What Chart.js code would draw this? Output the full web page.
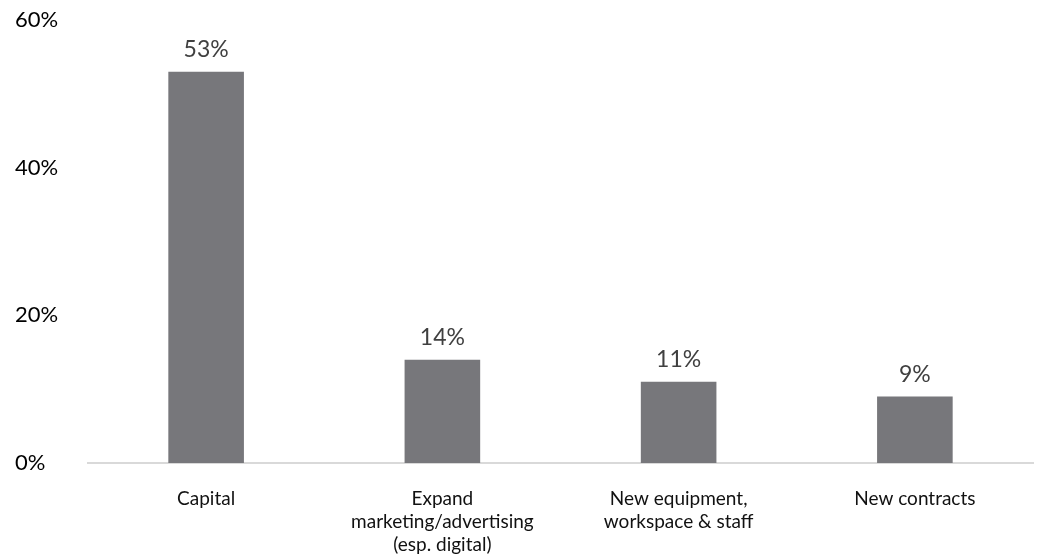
<!DOCTYPE html>
<html>
<head>
<meta charset="utf-8">
<title>Top needs</title>
<script src="https://cdn.jsdelivr.net/npm/chart.js@4.4.0/dist/chart.umd.min.js"></script>
<style>
    body { margin: 0; background: #fff; }
    #wrap { width: 1046px; height: 554px; position: relative; }
</style>
</head>
<body>
<div id="wrap"><canvas id="myChart"></canvas></div>
<script>
var categories = [
    ['Capital'],
    ['Expand', 'marketing/advertising', '(esp. digital)'],
    ['New equipment,', 'workspace & staff'],
    ['New contracts']
];
var shares = [53, 14, 11, 9];
var yTicks = [0, 20, 40, 60];

var barColor = '#77777b';
var fontName = 'Lato, "Open Sans", sans-serif';

// percentage written above each bar
var valueLabels = {
    id: 'valueLabels',
    afterDatasetsDraw: function (chart) {
        var ctx = chart.ctx;
        var meta = chart.getDatasetMeta(0);
        ctx.save();
        ctx.font = '23px ' + fontName;
        ctx.fillStyle = '#404040';
        ctx.textAlign = 'center';
        ctx.textBaseline = 'alphabetic';
        meta.data.forEach(function (bar, i) {
            ctx.fillText(shares[i] + '%', bar.x, bar.y - 15);
        });
        ctx.restore();
    }
};

var ctx = document.getElementById('myChart').getContext('2d');
var chart = new Chart(ctx, {
    type: 'bar',
    data: {
        labels: categories,
        datasets: [{
            data: shares,
            backgroundColor: barColor,
            borderWidth: 0,
            categoryPercentage: 1,
            barPercentage: 0.32
        }]
    },
    options: {
        responsive: true,
        maintainAspectRatio: false,
        animation: false,
        layout: { padding: { left: 15, right: 13, top: 20, bottom: 0 } },
        plugins: {
            legend: { display: false },
            tooltip: { enabled: false }
        },
        scales: {
            x: {
                grid: { display: false },
                border: { color: '#d9d9d9', width: 2 },
                ticks: {
                    color: '#111',
                    font: { family: fontName, size: 19, lineHeight: 1.22 },
                    maxRotation: 0,
                    autoSkip: false,
                    padding: 16
                },
                afterFit: function (scale) { scale.height = 91; }
            },
            y: {
                min: yTicks[0],
                max: yTicks[yTicks.length - 1],
                grid: { display: false },
                border: { display: false },
                ticks: {
                    stepSize: 20,
                    color: '#000',
                    crossAlign: 'far',
                    font: { family: fontName, size: 22 },
                    callback: function (v) { return v + '%'; }
                },
                afterFit: function (scale) { scale.width = 73; }
            }
        }
    },
    plugins: [valueLabels]
});
</script>
</body>
</html>
